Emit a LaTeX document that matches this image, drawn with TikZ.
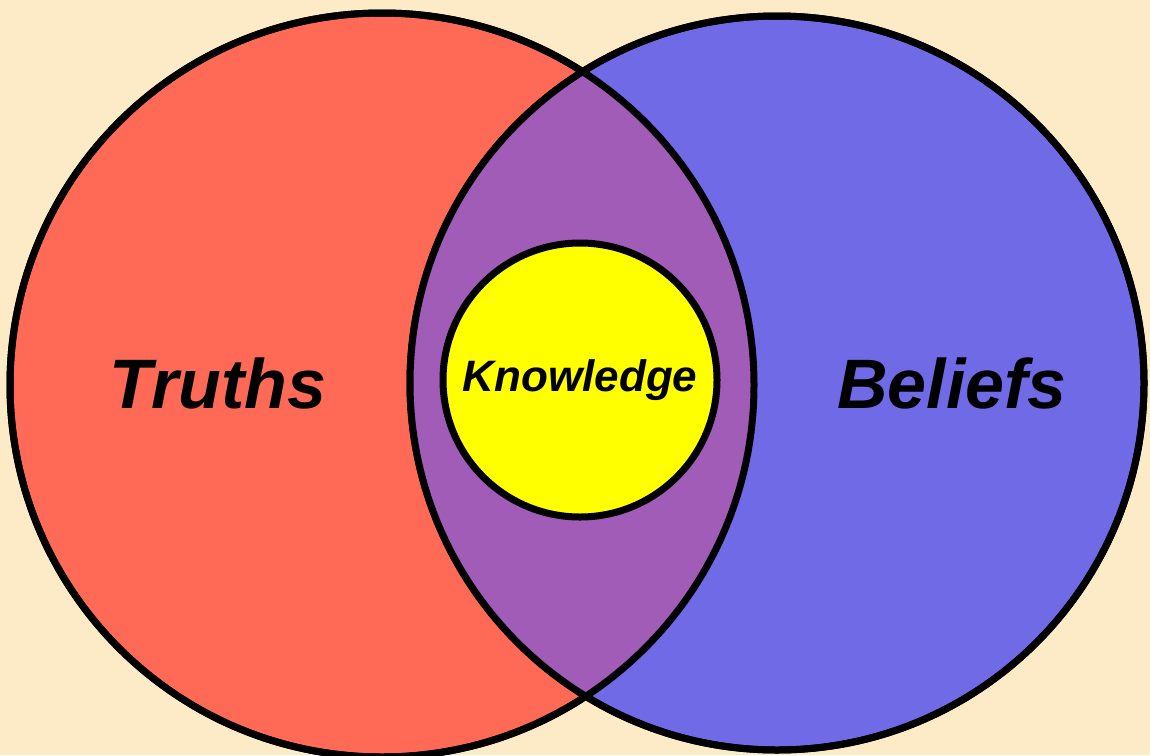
\documentclass[tikz,border=0pt]{standalone}
\usepackage{fontspec}
\setmainfont{Liberation Sans}
\usepackage{tikz}

\definecolor{paper}{HTML}{FDEBC8}
\definecolor{truthred}{HTML}{FF6A57}
\definecolor{beliefblue}{HTML}{716AE6}
\definecolor{overlap}{HTML}{A15CB8}
\definecolor{knowyellow}{HTML}{FFFF00}

\begin{document}
\begin{tikzpicture}[x=1pt,y=-1pt,
  ring/.style={circle,draw=black,line width=7pt,inner sep=0pt},
  lbl/.style={font=\bfseries\itshape,text=black}]
\pgfmathsetmacro{\rt}{372}
\pgfmathsetmacro{\rb}{367}
\pgfmathsetmacro{\rk}{137}
\fill[paper] (0,0) rectangle (1150,755);
\useasboundingbox (0,0) rectangle (1150,755);
% the two big sets
\node[ring,fill=truthred,minimum size=2*\rt pt] (truths) at (382,385) {};
\node[ring,fill=beliefblue,minimum size=2*\rb pt] (beliefs) at (777,383) {};
\begin{scope}
\clip (truths.center) circle (\rt pt);
\fill[overlap] (beliefs.center) circle (\rb pt);
\end{scope}
\draw[line width=7pt] (truths.center) circle (\rt pt);
\draw[line width=7pt] (beliefs.center) circle (\rb pt);
% knowledge in the middle
\node[ring,fill=knowyellow,minimum size=2*\rk pt] (knowledge) at (580,380) {};
\node[lbl,font=\fontsize{44}{44}\selectfont\bfseries\itshape] at (knowledge.center) {Knowledge};
\node[lbl,font=\fontsize{70}{70}\selectfont\bfseries\itshape] (tlabel) at (218,383) {Truths};
\node[lbl,font=\fontsize{70}{70}\selectfont\bfseries\itshape] (blabel) at (952,383) {Beliefs};
\end{tikzpicture}
\end{document}
